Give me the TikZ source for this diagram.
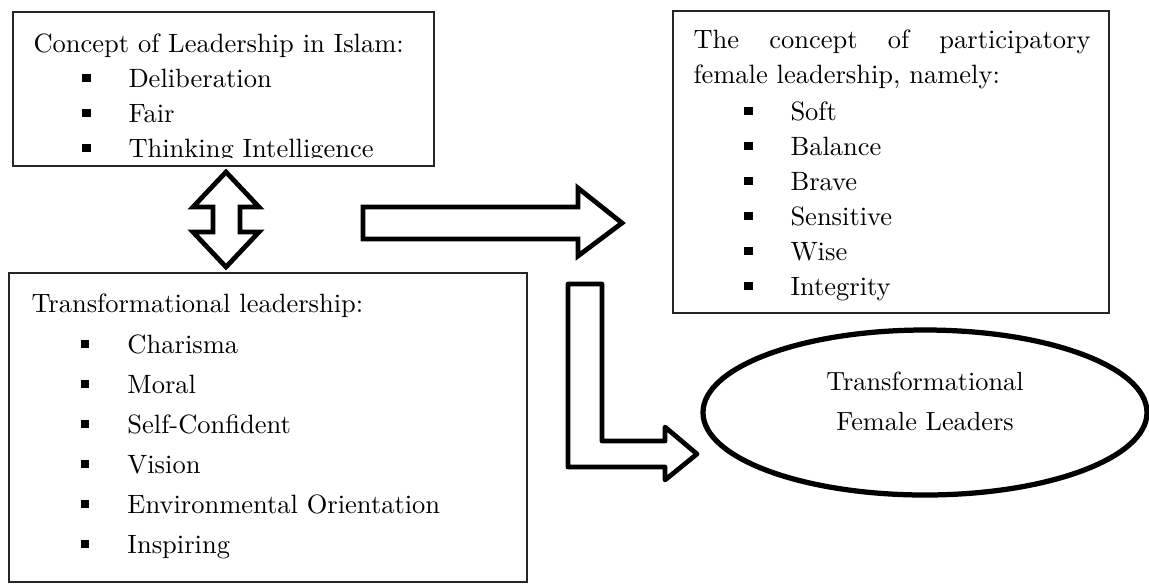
\documentclass[tikz,border=0pt]{standalone}
\usetikzlibrary{shapes.geometric}
\begin{document}
\begin{tikzpicture}[x=0.4pt,y=-0.4pt,
  frame/.style={draw=black!85, line width=0.5pt, inner sep=0pt, fill=none},
  txt/.style={anchor=base west, inner sep=0pt, font=\fontsize{10.6}{12}\selectfont},
  ctxt/.style={anchor=base, inner sep=0pt, font=\fontsize{10.5}{12}\selectfont},
  bul/.style={fill=black, inner sep=0pt, minimum size=3.4pt},
  blockarrow/.style={draw=black, line width=1.9pt, line join=miter, fill=white},
  goal/.style={ellipse, draw=black, line width=2.1pt, inner sep=0pt}
]
\useasboundingbox (0,0) rectangle (1149,583);

% boxes
\node[frame, minimum width=168.4pt, minimum height=61.6pt] (islam) at (223.5,89) {};
\node[frame, minimum width=174.4pt, minimum height=120.8pt] (female) at (891,162) {};
\node[frame, minimum width=207.2pt, minimum height=123.6pt] (trans) at (268,427.5) {};
\node[goal, minimum width=177.6pt, minimum height=66pt] (leaders) at (925,412.5) {};

% box 1 text (clipped by the text area of the frame)
\begin{scope}
\clip (13,12) rectangle (434,157.5);
\node[txt] (t1) at (33,52) {Concept of Leadership in Islam:};
\foreach \n/\y/\s in {a/87/Deliberation, b/122/Fair, c/157/Thinking Intelligence}{
  \node[bul] (b1\n) at (86.5,\y-9) {};
  \node[txt] (i1\n) at (128,\y) {\s};
}
\end{scope}

% box 2 text
\node[txt] (t2a) at (693,48) {\makebox[158.8pt][s]{The concept of participatory}};
\node[txt] (t2b) at (693,83) {female leadership, namely:};
\foreach \n/\y/\s in {a/120/Soft, b/155/Balance, c/190/Brave, d/225/Sensitive, e/260/Wise, f/295/Integrity}{
  \node[bul] (b2\n) at (748.5,\y-9) {};
  \node[txt] (i2\n) at (790,\y) {\s};
}

% box 3 text
\node[txt] (t3) at (31,312) {Transformational leadership:};
\foreach \n/\y/\s in {a/353/Charisma, b/393/Moral, c/433/Self-Confident, d/473/Vision, e/513/Environmental Orientation, f/553/Inspiring}{
  \node[bul] (b3\n) at (85,\y-9) {};
  \node[txt] (i3\n) at (127,\y) {\s};
}

% ellipse text
\node[ctxt] (e1) at (925,390) {Transformational};
\node[ctxt] (e2) at (925,430) {Female Leaders};

% double arrow between islam and trans
\draw[blockarrow] (226,172) -- (259,207) -- (240,207) -- (240,232) -- (259,232)
  -- (226,267) -- (193,232) -- (213,232) -- (213,207) -- (193,207) -- cycle;

% right arrow towards female box
\draw[blockarrow] (363,207) -- (578,207) -- (578,188) -- (622,223) -- (578,256)
  -- (578,239) -- (363,239) -- cycle;

% L arrow towards ellipse
\draw[blockarrow, line join=round] (568,284) -- (602,284) -- (602,441) -- (665,441)
  -- (665,427) -- (697,454) -- (665,480) -- (665,467) -- (568,467) -- cycle;
\end{tikzpicture}
\end{document}
